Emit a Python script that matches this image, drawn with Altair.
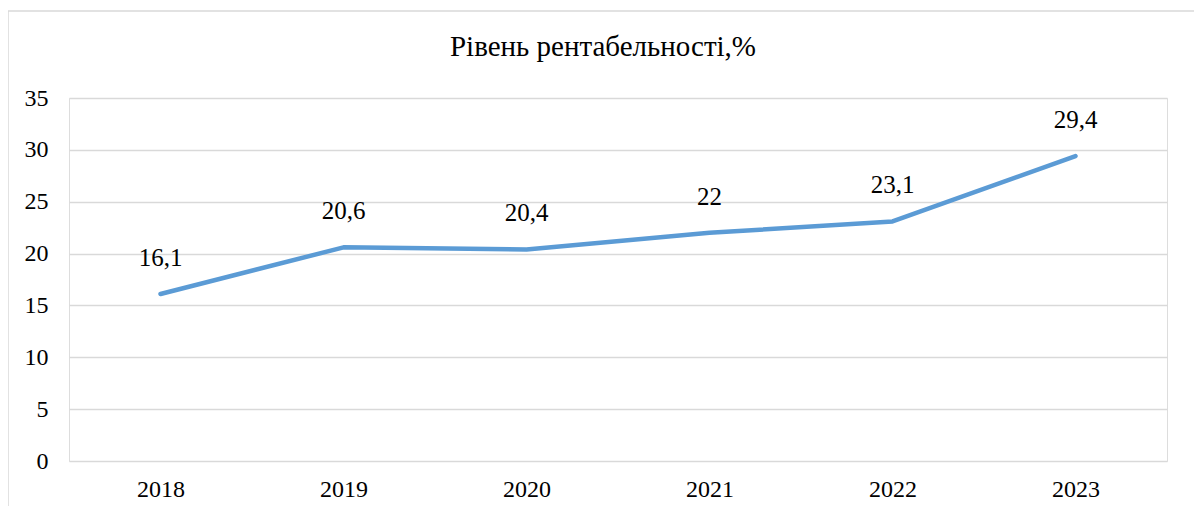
import altair as alt
import pandas as pd

years = ["2018", "2019", "2020", "2021", "2022", "2023"]
values = [16.1, 20.6, 20.4, 22.0, 23.1, 29.4]
labels = ["16,1", "20,6", "20,4", "22", "23,1", "29,4"]
title_text = "Рівень рентабельності,%"

df = pd.DataFrame({"year": years, "value": values, "label": labels})

FONT = "Liberation Serif"
W, H = 1098, 363

base = alt.Chart(df)
first = base.transform_filter(alt.datum.year == "2018")

border = first.mark_rect(fill=None, stroke="#d9d9d9", strokeWidth=1.5, clip=False).encode(
    x=alt.value(-61), x2=alt.value(1128), y=alt.value(-87), y2=alt.value(440)
)

title = first.mark_text(font=FONT, fontSize=29, color="#000000", align="center",
                        baseline="middle", clip=False).encode(
    x=alt.value(534), y=alt.value(-51), text=alt.value(title_text)
)

line = base.mark_line(color="#5b9bd5", strokeWidth=4.5, strokeCap="round", strokeJoin="round").encode(
    x=alt.X("year:N", sort=years,
            scale=alt.Scale(paddingInner=0, paddingOuter=0),
            axis=alt.Axis(title=None, labelAngle=0, domain=False, ticks=False, grid=False,
                          labelFont=FONT, labelFontSize=24, labelColor="#000000",
                          labelPadding=16)),
    y=alt.Y("value:Q", scale=alt.Scale(domain=[0, 35]),
            axis=alt.Axis(title=None, values=[0, 5, 10, 15, 20, 25, 30, 35], domain=False,
                          ticks=False, gridColor="#d9d9d9", gridWidth=1.5,
                          labelFont=FONT, labelFontSize=24, labelColor="#000000",
                          labelPadding=21)),
)

text = base.mark_text(font=FONT, fontSize=25, color="#000000", baseline="bottom", dy=-23).encode(
    x=alt.X("year:N", sort=years),
    y="value:Q",
    text="label:N",
)

chart = alt.layer(border, title, line, text).properties(
    width=W, height=H,
    autosize=alt.AutoSizeParams(type="none"),
    padding={"left": 61, "top": 90, "right": 27, "bottom": 45},
).configure_view(stroke=None).configure(background="white")

chart.save("out.html", embed_options={"renderer": "svg", "actions": False})
